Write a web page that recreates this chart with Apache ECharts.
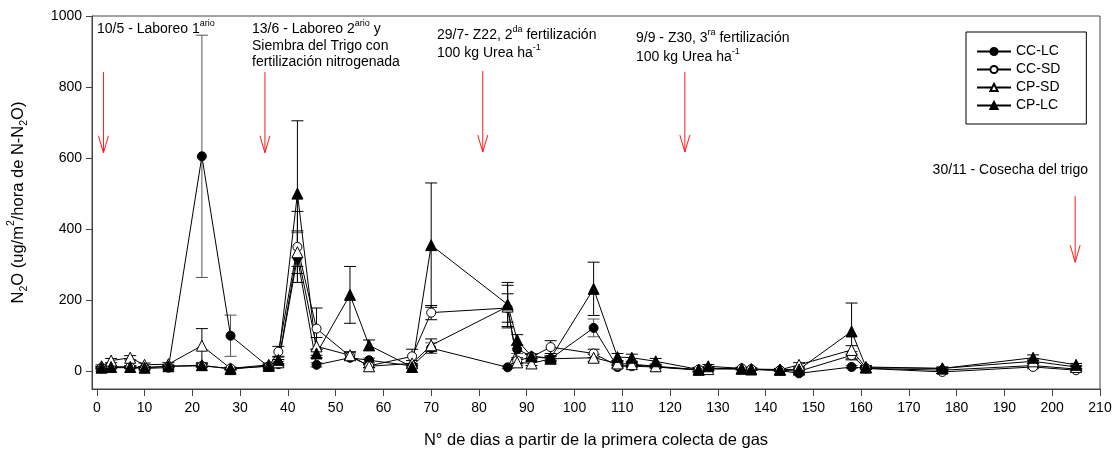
<!DOCTYPE html>
<html>
<head>
<meta charset="utf-8">
<title>N2O</title>
<script src="https://cdn.jsdelivr.net/npm/echarts@6.0.0/dist/echarts.min.js"></script>
<style>
  html, body { margin: 0; padding: 0; background: #fff; }
  #chart { width: 1115px; height: 452px; }
</style>
</head>
<body>
<div id="chart"></div>
<script>
// dias de muestreo
const days = [1, 3, 7, 10, 15, 22, 28, 36, 38, 42, 46, 53, 57, 66, 70, 86, 88, 91, 95, 104,
  109, 112, 117, 126, 128, 135, 137, 143, 147, 158, 161, 177, 196, 205];

// medias y desvios por tratamiento
const ccLc   = [8, 10, 10, 8, 10, 605, 100, 12, 20, 320, 18, 38, 31, 15, 65, 11, 62, 42, 35, 122,
  12, 18, 12, 3, 8, 6, 5, 2, -6, 12, 8, 3, 16, 6];
const ccLcSd = [4, 4, 3, 3, 3, 341, 58, 4, 8, 70, 6, 8, 6, 4, 15, 3, 12, 6, 6, 25,
  4, 4, 3, 6, 5, 3, 3, 3, 5, 4, 3, 3, 5, 3];

const ccSd   = [10, 12, 12, 10, 14, 15, 8, 14, 55, 350, 120, 42, 15, 42, 165, 178, 30, 40, 68, 50,
  15, 14, 12, 5, 8, 8, 6, 3, 0, 45, 8, -2, 12, 3];
const ccSdSd = [3, 3, 3, 3, 3, 5, 3, 5, 15, 100, 58, 10, 5, 20, 20, 40, 8, 8, 18, 12,
  4, 4, 3, 5, 4, 3, 3, 3, 6, 10, 3, 4, 5, 3];

const cpSd   = [14, 30, 38, 18, 20, 72, 8, 18, 25, 335, 70, 45, 14, 22, 73, 182, 25, 22, 35, 38,
  22, 20, 14, 4, 6, 7, 5, 4, 18, 60, 10, 8, 28, 12];
const cpSdSd = [4, 6, 6, 5, 4, 48, 3, 5, 8, 60, 25, 10, 4, 8, 18, 60, 8, 6, 8, 10,
  6, 6, 4, 6, 5, 3, 3, 3, 6, 12, 3, 4, 6, 4];

const cpLc   = [10, 12, 12, 10, 14, 17, 6, 15, 32, 500, 50, 215, 73, 12, 355, 188, 88, 42, 37, 232,
  40, 38, 28, 5, 14, 8, 6, 5, 5, 112, 12, 8, 38, 18];
const cpLcSd = [3, 3, 3, 3, 3, 4, 3, 5, 10, 205, 12, 80, 15, 4, 175, 62, 15, 6, 6, 75,
  10, 10, 8, 6, 5, 3, 3, 3, 4, 80, 4, 3, 8, 4];

// flechas de eventos de manejo
const arrowDays = [1.4, 35.2, 80.8, 123.1, 204.8];
const arrowTop  = [842, 842, 845, 842, 493];
const arrowTip  = [615, 615, 617, 617, 307];

// ticks
const xTicks = [0, 10, 20, 30, 40, 50, 60, 70, 80, 90, 100, 110, 120, 130, 140, 150, 160, 170, 180, 190, 200, 210];
const yTicks = [0, 200, 400, 600, 800, 1000];

const FONT = 'Liberation Sans, Arial, sans-serif';
const AXIS_COLOR = '#444';

const treatments = [
  { name: 'CC-LC', vals: ccLc, sd: ccLcSd, symbol: 'circle', size: 9, fill: '#000', err: '#555' },
  { name: 'CC-SD', vals: ccSd, sd: ccSdSd, symbol: 'circle', size: 9, fill: '#fff', err: '#000' },
  { name: 'CP-SD', vals: cpSd, sd: cpSdSd, symbol: 'triangle', size: 11, fill: '#fff', err: '#000' },
  { name: 'CP-LC', vals: cpLc, sd: cpLcSd, symbol: 'triangle', size: 11, fill: '#000', err: '#000' },
];

const chart = echarts.init(document.getElementById('chart'), null, { renderer: 'canvas' });

// barras de error: linea vertical con topes
function errorRenderer(color) {
  return function (params, api) {
    const x = api.value(0);
    const lo = api.coord([x, api.value(1)]);
    const hi = api.coord([x, api.value(2)]);
    const w = 6;
    const st = { stroke: color, lineWidth: 1 };
    return {
      type: 'group',
      children: [
        { type: 'line', shape: { x1: lo[0], y1: lo[1], x2: hi[0], y2: hi[1] }, style: st },
        { type: 'line', shape: { x1: hi[0] - w, y1: hi[1], x2: hi[0] + w, y2: hi[1] }, style: st },
        { type: 'line', shape: { x1: lo[0] - w, y1: lo[1], x2: lo[0] + w, y2: lo[1] }, style: st },
      ],
    };
  };
}

function arrowRenderer(params, api) {
  const x = api.value(0);
  const top = api.coord([x, api.value(1)]);
  const tip = api.coord([x, api.value(2)]);
  const st = { stroke: '#ff1a1a', lineWidth: 1 };
  return {
    type: 'group',
    children: [
      { type: 'line', shape: { x1: top[0], y1: top[1], x2: tip[0], y2: tip[1] }, style: st },
      { type: 'polyline', shape: { points: [[tip[0] - 5, tip[1] - 17], [tip[0], tip[1]], [tip[0] + 5, tip[1] - 17]] }, style: Object.assign({ fill: null }, st) },
    ],
  };
}

const series = [];
treatments.forEach((t) => {
  series.push({
    name: t.name + '_err',
    type: 'custom',
    renderItem: errorRenderer(t.err),
    data: days.map((d, i) => [d, t.vals[i] - t.sd[i], t.vals[i] + t.sd[i]]),
    z: 1,
    silent: true,
  });
});
treatments.forEach((t) => {
  series.push({
    name: t.name,
    type: 'line',
    data: days.map((d, i) => [d, t.vals[i]]),
    symbol: t.symbol,
    symbolSize: t.size,
    showAllSymbol: true,
    lineStyle: { color: '#000', width: 1 },
    itemStyle: { color: t.fill, borderColor: '#000', borderWidth: 1 },
    z: 3,
  });
});
series.push({
  name: 'flechas',
  type: 'custom',
  renderItem: arrowRenderer,
  data: arrowDays.map((d, i) => [d, arrowTop[i], arrowTip[i]]),
  z: 2,
  silent: true,
});

const baseRich = {
  n: { fontSize: 14, fontFamily: FONT, color: '#000', lineHeight: 20 },
  sup: { fontSize: 9, fontFamily: FONT, color: '#000', lineHeight: 9, verticalAlign: 'top' },
};

function note(x, y, text, align) {
  return {
    type: 'text',
    x: x,
    y: y,
    style: {
      text: text,
      rich: baseRich,
      align: align || 'left',
      verticalAlign: 'middle',
    },
  };
}

const option = {
  animation: false,
  backgroundColor: '#fff',
  grid: {
    left: 92, right: 15, top: 16, bottom: 63,
    containLabel: false,
    outerBoundsMode: 'none',
    show: true, borderColor: AXIS_COLOR, borderWidth: 1,
  },
  legend: {
    data: treatments.map((t) => t.name),
    orient: 'vertical',
    left: 966,
    top: 32,
    width: 112,
    padding: [12, 26, 11, 10],
    itemWidth: 34,
    itemHeight: 9,
    itemGap: 3,
    borderColor: '#000',
    borderWidth: 1,
    backgroundColor: '#fff',
    textStyle: { fontSize: 14, fontFamily: FONT, color: '#000', lineHeight: 15 },
  },
  xAxis: {
    type: 'value',
    min: -1,
    max: 210,
    name: 'N° de dias a partir de la primera colecta de gas',
    nameLocation: 'middle',
    nameGap: 43,
    nameTextStyle: { fontSize: 16.5, fontFamily: FONT, color: '#000' },
    axisLine: { show: true, onZero: false, lineStyle: { color: AXIS_COLOR } },
    axisTick: { show: true, inside: false, length: 7, customValues: xTicks, lineStyle: { color: AXIS_COLOR } },
    axisLabel: { customValues: xTicks, margin: 12, fontSize: 14, fontFamily: FONT, color: '#000', formatter: (v) => String(v) },
    splitLine: { show: false },
  },
  yAxis: {
    type: 'value',
    min: -50,
    max: 1000,
    name: '{n|N}{sub|2}{n|O (ug/m}{sup|2}{n|/hora de N-N}{sub|2}{n|O)}',
    nameLocation: 'middle',
    nameRotate: 90,
    nameGap: 62,
    nameTextStyle: {
      rich: {
        n: { fontSize: 16.5, fontFamily: FONT, color: '#000', lineHeight: 24 },
        sub: { fontSize: 10.5, fontFamily: FONT, color: '#000', lineHeight: 12, verticalAlign: 'bottom' },
        sup: { fontSize: 10.5, fontFamily: FONT, color: '#000', lineHeight: 11, verticalAlign: 'top' },
      },
    },
    axisLine: { show: true, onZero: false, lineStyle: { color: AXIS_COLOR } },
    axisTick: { show: true, inside: false, length: 6, customValues: yTicks, lineStyle: { color: AXIS_COLOR } },
    axisLabel: { customValues: yTicks, margin: 10, fontSize: 14, fontFamily: FONT, color: '#000', formatter: (v) => String(v) },
    splitLine: { show: false },
  },
  graphic: [
    note(97, 29, '{n|10/5 - Laboreo 1}{sup|ario}'),
    note(252, 29, '{n|13/6 - Laboreo 2}{sup|ario}{n| y}'),
    note(252, 46, '{n|Siembra del Trigo con}'),
    note(252, 62, '{n|fertilización nitrogenada}'),
    note(437, 35, '{n|29/7- Z22, 2}{sup|da}{n| fertilización}'),
    note(437, 53, '{n|100 kg Urea ha}{sup|-1}'),
    note(636, 38, '{n|9/9 - Z30, 3}{sup|ra}{n| fertilización}'),
    note(636, 57, '{n|100 kg Urea ha}{sup|-1}'),
    note(1088, 170, '{n|30/11 - Cosecha del trigo}', 'right'),
  ],
  series: series,
};

chart.setOption(option);
</script>
</body>
</html>
